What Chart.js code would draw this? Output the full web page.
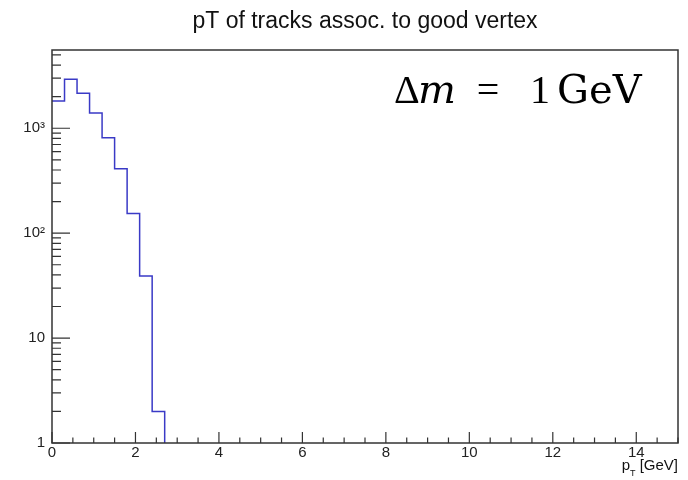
<!DOCTYPE html>
<html>
<head>
<meta charset="utf-8">
<script src="https://cdn.jsdelivr.net/npm/chart.js@4/dist/chart.umd.min.js"></script>
<style>
  html, body { margin: 0; padding: 0; background: #fff; }
</style>
</head>
<body>
<canvas id="c" width="688" height="480"></canvas>
<script>
// histogram: pT of tracks, bins of 0.3 GeV starting at 0
const TITLE = 'pT of tracks assoc. to good vertex';
const BIN_WIDTH = 0.3;
const counts = [1820, 2930, 2155, 1400, 813, 412, 154, 39, 2];
const xTicks = [0, 2, 4, 6, 8, 10, 12, 14];
const yTicks = [1, 10, 100, 1000];
const yTickLabels = ['1', '10', '10²', '10³'];
const X_MIN = 0, X_MAX = 15, Y_MIN = 1, Y_MAX = 5570;

const LINE = '#3a3ac6';
const AXIS = '#333';
const SANS = '"Liberation Sans", Arial, sans-serif';
const SERIF = '"Liberation Serif", serif';
const SERIF_WIDE = '"DejaVu Serif", serif';

const points = counts.map((c, i) => ({ x: i * BIN_WIDTH, y: c }));
// last edge drops down to the bottom of the frame (empty bins are not drawn on log scale)
points.push({ x: counts.length * BIN_WIDTH, y: Y_MIN });

const rootStyle = {
  id: 'rootStyle',
  afterDatasetsDraw(chart) {
    const { ctx, chartArea: a, scales: { x, y } } = chart;
    ctx.save();

    // frame
    ctx.strokeStyle = AXIS;
    ctx.lineWidth = 1.5;
    ctx.strokeRect(a.left, a.top, a.right - a.left, a.bottom - a.top);

    // inward ticks, x axis
    ctx.lineWidth = 1.2;
    ctx.beginPath();
    for (let v = X_MIN; v <= X_MAX + 1e-9; v += 0.5) {
      const px = x.getPixelForValue(v);
      const len = xTicks.includes(v) ? 11 : 5.5;
      ctx.moveTo(px, a.bottom);
      ctx.lineTo(px, a.bottom - len);
    }
    // inward ticks, y axis (log)
    for (let d = 1; d <= Y_MAX; d *= 10) {
      for (let m = 1; m <= 9; m++) {
        const v = d * m;
        if (v > Y_MAX) break;
        const py = y.getPixelForValue(v);
        const len = m === 1 ? 18 : 9;
        ctx.moveTo(a.left, py);
        ctx.lineTo(a.left + len, py);
      }
    }
    ctx.stroke();

    // title
    ctx.fillStyle = '#111';
    ctx.font = '23px ' + SANS;
    ctx.textAlign = 'center';
    ctx.textBaseline = 'alphabetic';
    ctx.fillText(TITLE, (a.left + a.right) / 2, 28);

    // x axis title: p_T [GeV], right aligned
    ctx.textAlign = 'left';
    ctx.font = '15px ' + SANS;
    const unit = ' [GeV]';
    const wUnit = ctx.measureText(unit).width;
    const wP = ctx.measureText('p').width;
    ctx.font = '9px ' + SANS;
    const wT = ctx.measureText('T').width;
    let xs = a.right - wUnit - wT - wP;
    ctx.font = '15px ' + SANS;
    ctx.fillText('p', xs, 470);
    ctx.font = '9px ' + SANS;
    ctx.fillText('T', xs + wP, 476);
    ctx.font = '15px ' + SANS;
    ctx.fillText(unit, xs + wP + wT, 470);

    // annotation: Δm = 1 GeV
    ctx.fillStyle = '#000';
    const base = 103;
    ctx.font = '40px ' + SERIF;
    ctx.fillText('Δ', 394, base);
    ctx.font = 'italic 40px ' + SERIF_WIDE;
    ctx.fillText('m', 418, base);
    ctx.textAlign = 'center';
    ctx.font = '40px ' + SERIF;
    ctx.fillText('=', 488, base);
    ctx.fillText('1', 540, base);
    ctx.textAlign = 'left';
    ctx.font = '40px ' + SERIF_WIDE;
    ctx.fillText('GeV', 557, base);

    ctx.restore();
  }
};

new Chart(document.getElementById('c'), {
  type: 'line',
  data: {
    datasets: [{
      data: points,
      stepped: 'before',
      borderColor: LINE,
      borderWidth: 1.5,
      pointRadius: 0,
      fill: false
    }]
  },
  options: {
    responsive: false,
    animation: false,
    layout: { padding: { top: 50, right: 10, left: 0, bottom: 0 } },
    plugins: { legend: { display: false }, tooltip: { enabled: false } },
    scales: {
      x: {
        type: 'linear',
        min: X_MIN,
        max: X_MAX,
        afterBuildTicks: s => { s.ticks = xTicks.map(v => ({ value: v })); },
        afterFit: s => { s.height = 37; },
        grid: { display: false, drawTicks: false },
        border: { display: false },
        ticks: {
          maxRotation: 0,
          autoSkip: false,
          padding: 1,
          color: '#222',
          font: { family: SANS, size: 15 }
        }
      },
      y: {
        type: 'logarithmic',
        min: Y_MIN,
        max: Y_MAX,
        afterBuildTicks: s => { s.ticks = yTicks.map(v => ({ value: v })); },
        afterFit: s => { s.width = 52; },
        grid: { display: false, drawTicks: false },
        border: { display: false },
        ticks: {
          autoSkip: false,
          padding: 7,
          color: '#222',
          font: { family: SANS, size: 15 },
          callback: v => yTickLabels[yTicks.indexOf(v)]
        }
      }
    }
  },
  plugins: [rootStyle]
});
</script>
</body>
</html>
